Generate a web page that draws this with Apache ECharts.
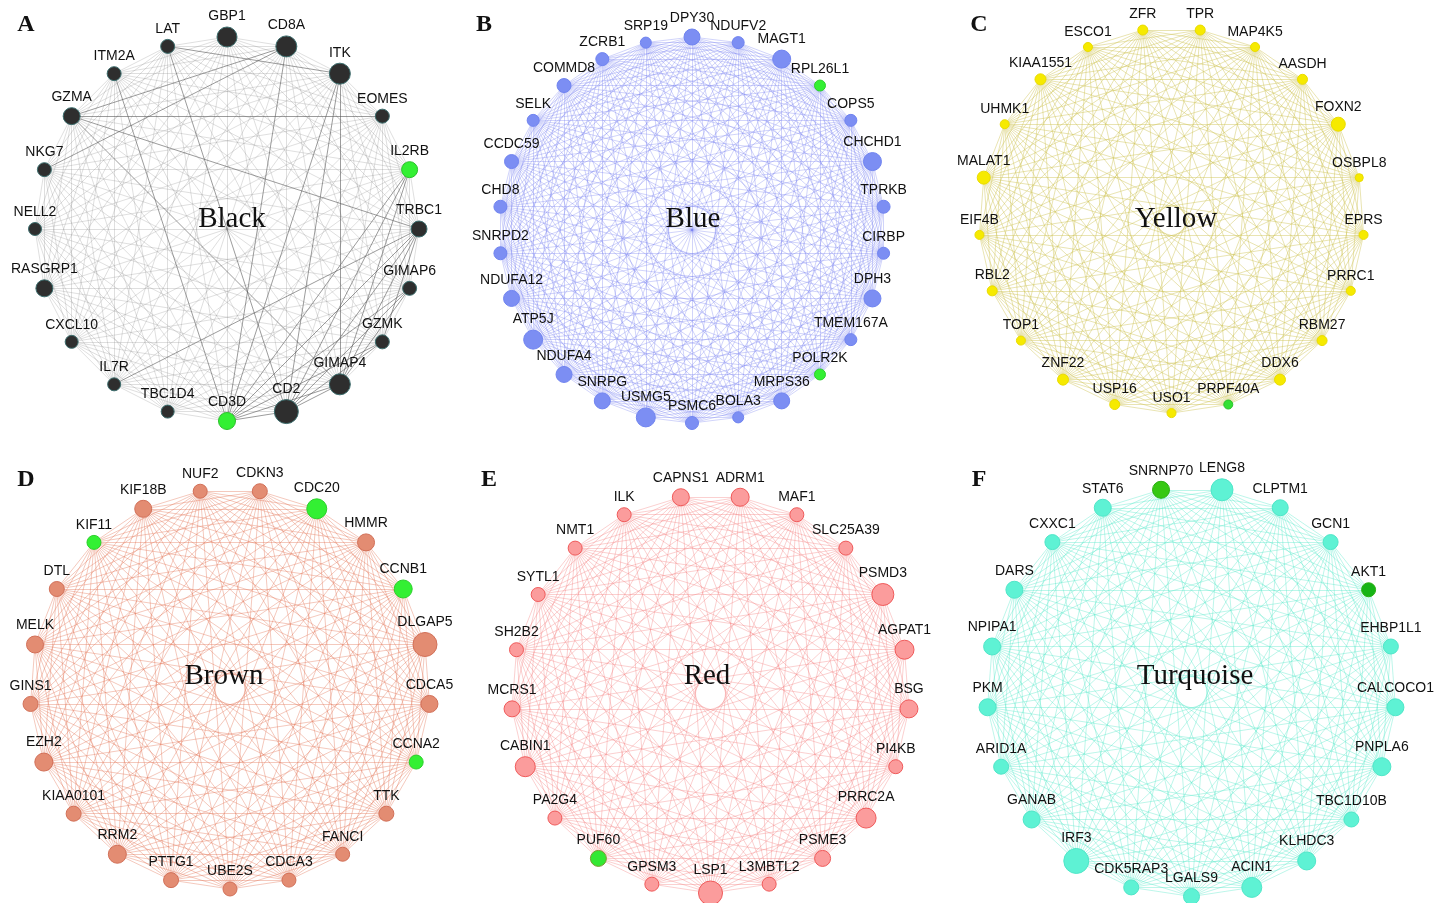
<!DOCTYPE html>
<html>
<head>
<meta charset="utf-8">
<script src="https://cdn.jsdelivr.net/npm/echarts@6/dist/echarts.min.js"></script>
<style>
html, body { margin: 0; padding: 0; background: #ffffff; }
#chart { width: 1453px; height: 903px; }
</style>
</head>
<body>
<div id="chart"></div>
<script>
// ---- Module gene lists (clockwise order around each circle) ----
const blackGenes = ['GBP1','CD8A','ITK','EOMES','IL2RB','TRBC1','GIMAP6','GZMK','GIMAP4','CD2','CD3D','TBC1D4','IL7R','CXCL10','RASGRP1','NELL2','NKG7','GZMA','ITM2A','LAT'];
const blackConn  = [30,32,32,18,22,22,18,18,32,38,24,16,16,16,24,16,18,24,18,18];
const blackHubs  = ['IL2RB','CD3D'];
const blackStrong = [
  ['LAT','ITK'],['CD8A','NKG7'],['CD8A','GZMA'],['GZMA','GIMAP4'],['IL7R','TRBC1'],
  ['TRBC1','CD2'],['TRBC1','CD3D'],['TRBC1','GIMAP4'],['TRBC1','GZMK'],
  ['GIMAP6','CD2'],['GIMAP6','CD3D'],['GIMAP6','GIMAP4'],['GZMK','CD2'],['GZMK','CD3D'],
  ['GIMAP4','CD2'],['GIMAP4','CD3D'],['CD2','CD3D'],['IL2RB','CD2'],['IL2RB','CD3D'],
  ['IL2RB','GIMAP4'],['ITK','CD3D'],['ITK','CD2'],['CD8A','CD3D'],['ITM2A','CD3D'],
  ['LAT','CD2'],['EOMES','GZMA'],['GZMA','TRBC1'],['ITK','GIMAP4']
];

const blueGenes = ['DPY30','NDUFV2','MAGT1','RPL26L1','COPS5','CHCHD1','TPRKB','CIRBP','DPH3','TMEM167A','POLR2K','MRPS36','BOLA3','PSMC6','USMG5','SNRPG','NDUFA4','ATP5J','NDUFA12','SNRPD2','CHD8','CCDC59','SELK','COMMD8','ZCRB1','SRP19'];
const blueConn  = [22,14,26,12,14,26,16,14,24,14,12,22,12,16,28,22,22,28,22,16,16,18,14,18,16,12];
const blueHubs  = ['RPL26L1','POLR2K'];

const yellowGenes = ['TPR','MAP4K5','AASDH','FOXN2','OSBPL8','EPRS','PRRC1','RBM27','DDX6','PRPF40A','USO1','USP16','ZNF22','TOP1','RBL2','EIF4B','MALAT1','UHMK1','KIAA1551','ESCO1','ZFR'];
const yellowConn  = [10,8,10,18,6,8,8,10,12,8,8,10,12,8,10,8,16,8,12,8,10];
const yellowHubs  = ['PRPF40A'];

const brownGenes = ['CDKN3','CDC20','HMMR','CCNB1','DLGAP5','CDCA5','CCNA2','TTK','FANCI','CDCA3','UBE2S','PTTG1','RRM2','KIAA0101','EZH2','GINS1','MELK','DTL','KIF11','KIF18B','NUF2'];
const brownConn  = [20,30,24,26,38,24,18,20,18,18,18,20,26,20,26,20,24,20,18,24,18];
const brownHubs  = ['CDC20','CCNB1','CCNA2','KIF11'];

const redGenes = ['ADRM1','MAF1','SLC25A39','PSMD3','AGPAT1','BSG','PI4KB','PRRC2A','PSME3','L3MBTL2','LSP1','GPSM3','PUF60','PA2G4','CABIN1','MCRS1','SH2B2','SYTL1','NMT1','ILK','CAPNS1'];
const redConn  = [26,18,18,34,28,26,18,30,22,18,38,18,22,18,30,22,18,18,18,18,24];
const redHubs  = ['PUF60'];

const turquoiseGenes = ['LENG8','CLPTM1','GCN1','AKT1','EHBP1L1','CALCOCO1','PNPLA6','TBC1D10B','KLHDC3','ACIN1','LGALS9','CDK5RAP3','IRF3','GANAB','ARID1A','PKM','NPIPA1','DARS','CXXC1','STAT6','SNRNP70'];
const turquoiseConn  = [34,22,20,18,20,24,26,20,26,30,22,20,40,24,20,24,24,24,20,24,24];
const turquoiseHubs  = ['SNRNP70','AKT1'];

const moduleNames = ['Black','Blue','Yellow','Brown','Red','Turquoise'];
const panelLetters = ['A','B','C','D','E','F'];

// ---- Panel geometry and styling ----
const panels = [
  { genes: blackGenes, conn: blackConn, hubs: blackHubs, strong: blackStrong,
    center: [227, 229], radius: 192, startAngle: 99,
    fill: '#2e2e2e', border: '#3d6e6e', edge: '#8a8a8a', edgeOpacity: 0.3, strongEdge: '#5a5a5a', hubFill: '#33f033', hubBorder: '#2cc02c',
    title: [232, 219], letter: [26, 25] },
  { genes: blueGenes, conn: blueConn, hubs: blueHubs, strong: [],
    center: [692, 230], radius: 193, startAngle: 90 + 180 / 26,
    fill: '#7c8ef3', border: '#7084f0', edge: '#6f78f0', edgeOpacity: 0.36, hubFill: '#33f033', hubBorder: '#2cd02c',
    title: [693, 219], letter: [484, 25] },
  { genes: yellowGenes, conn: yellowConn, hubs: yellowHubs, strong: [],
    center: [1171.5, 220.5], radius: 192.6, startAngle: 90,
    fill: '#f6ea00', border: '#eadc00', edge: '#cfc455', edgeOpacity: 0.5, hubFill: '#33e033', hubBorder: '#2cc02c',
    title: [1176, 219], letter: [979, 25] },
  { genes: brownGenes, conn: brownConn, hubs: brownHubs, strong: [],
    center: [230, 689], radius: 200, startAngle: 90,
    fill: '#e38c72', border: '#d27058', edge: '#e2704f', edgeOpacity: 0.42, hubFill: '#33f033', hubBorder: '#2cd02c',
    title: [224, 676], letter: [26, 480] },
  { genes: redGenes, conn: redConn, hubs: redHubs, strong: [],
    center: [710.5, 694], radius: 199, startAngle: 90,
    fill: '#fb9c9c', border: '#f05a5a', edge: '#f57a7a', edgeOpacity: 0.4, hubFill: '#33e833', hubBorder: '#7a9a30',
    title: [707, 676], letter: [489, 480] },
  { genes: turquoiseGenes, conn: turquoiseConn, hubs: turquoiseHubs, strong: [],
    center: [1191.5, 692], radius: 204.5, startAngle: 90,
    fill: '#5ef2d4', border: '#4fe6c8', edge: '#4fe6c6', edgeOpacity: 0.42, hubFill: '#36c812', hubBorder: '#2ab010',
    title: [1195, 676], letter: [979, 480] }
];

// node diameter from intramodular connectivity
function sizeOf(k) { return 5 + 0.5 * k; }

function pairKey(a, b) { return a < b ? a + '|' + b : b + '|' + a; }

const polar = [], angleAxis = [], radiusAxis = [], series = [], graphic = [];

panels.forEach(function (p, idx) {
  polar.push({ center: p.center, radius: p.radius });
  angleAxis.push({
    polarIndex: idx, type: 'category', data: p.genes, startAngle: p.startAngle, clockwise: true,
    boundaryGap: true,
    axisLine: { show: false }, axisTick: { show: false }, axisLabel: { show: false }, splitLine: { show: false }
  });
  radiusAxis.push({
    polarIndex: idx, type: 'value', min: 0, max: 1,
    axisLine: { show: false }, axisTick: { show: false }, axisLabel: { show: false }, splitLine: { show: false }
  });

  const strongSet = {};
  p.strong.forEach(function (e) { strongSet[pairKey(e[0], e[1])] = true; });

  const links = [];
  const strongLinks = [];
  for (let i = 0; i < p.genes.length; i++) {
    for (let j = i + 1; j < p.genes.length; j++) {
      const key = pairKey(p.genes[i], p.genes[j]);
      if (strongSet[key]) {
        strongLinks.push({ source: p.genes[i], target: p.genes[j],
          lineStyle: { color: p.strongEdge, opacity: 0.6, width: 1 } });
      } else {
        links.push({ source: p.genes[i], target: p.genes[j] });
      }
    }
  }

  const nodes = p.genes.map(function (g, i) {
    const hub = p.hubs.indexOf(g) >= 0;
    let hubFill = p.hubFill;
    if (idx === 5 && g === 'AKT1') hubFill = '#16b416';
    return {
      name: g,
      value: [1, i],
      symbolSize: sizeOf(p.conn[i]),
      itemStyle: hub
        ? { color: hubFill, borderColor: p.hubBorder, borderWidth: 1 }
        : { color: p.fill, borderColor: p.border, borderWidth: 1 }
    };
  });

  series.push({
    type: 'graph',
    coordinateSystem: 'polar',
    polarIndex: idx,
    silent: true,
    animation: false,
    symbol: 'circle',
    data: nodes,
    links: links.concat(strongLinks),
    lineStyle: { color: p.edge, opacity: p.edgeOpacity, width: 0.9, curveness: 0 },
    label: {
      show: true, position: 'top', distance: 3,
      fontSize: 14, fontFamily: '"Liberation Sans", Arial, sans-serif', color: '#111111'
    },
    emphasis: { disabled: true }
  });

  graphic.push({
    type: 'text', x: p.title[0], y: p.title[1], z: 100,
    style: { text: moduleNames[idx], font: '29px "Liberation Serif", "Times New Roman", serif',
      fill: '#111111', textAlign: 'center', textVerticalAlign: 'middle' }
  });
  graphic.push({
    type: 'text', x: p.letter[0], y: p.letter[1], z: 100,
    style: { text: panelLetters[idx], font: 'bold 24px "Liberation Serif", "Times New Roman", serif',
      fill: '#111111', textAlign: 'center', textVerticalAlign: 'middle' }
  });
});

const chart = echarts.init(document.getElementById('chart'), null, { renderer: 'canvas' });
chart.setOption({
  backgroundColor: '#ffffff',
  animation: false,
  polar: polar,
  angleAxis: angleAxis,
  radiusAxis: radiusAxis,
  series: series,
  graphic: graphic
});
</script>
</body>
</html>
